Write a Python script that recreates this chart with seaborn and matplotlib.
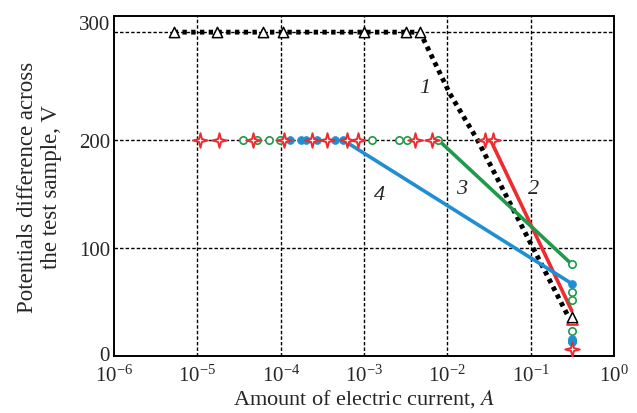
import numpy as np
import pandas as pd
import matplotlib
matplotlib.use("Agg")
import matplotlib.pyplot as plt
import matplotlib.transforms as mtransforms
from matplotlib.path import Path
import seaborn as sns

# curve 1 (black dotted, open triangles)
c1_x = [5.2e-6, 1.7e-5, 6.2e-5, 1.07e-4, 1.0e-3, 3.2e-3, 4.7e-3, 0.0107, 0.023, 0.105, 0.28]
c1_y = [300, 300, 300, 300, 300, 300, 300, 243, 200, 101, 37]
c1_mark_x = [5.2e-6, 1.7e-5, 6.2e-5, 1.07e-4, 1.0e-3, 3.2e-3, 4.7e-3, 0.31]
c1_mark_y = [300, 300, 300, 300, 300, 300, 300, 36]

# curve 2 (red, stars)
c2_mark_x = [1.07e-5, 1.8e-5, 4.6e-5, 1.1e-4, 2.4e-4, 3.6e-4, 6.3e-4, 8.5e-4,
             4.1e-3, 6.6e-3, 0.028, 0.035, 0.31]
c2_mark_y = [200] * 12 + [6]
c2_line_x = [0.033, 0.31]
c2_line_y = [200, 42]
c2_tri_x = [0.31]
c2_tri_y = [34]

# curve 3 (green, open circles)
c3_mark_x = [3.5e-5, 5.2e-5, 7.3e-5, 9.8e-5, 1.23e-3, 2.6e-3, 3.3e-3, 7.8e-3,
             0.31, 0.31, 0.31, 0.31, 0.31]
c3_mark_y = [200] * 8 + [85, 59, 52, 23, 14]
c3_line_x = [7.8e-3, 0.31]
c3_line_y = [200, 85]

# curve 4 (blue, filled circles)
c4_mark_x = [1.28e-4, 1.75e-4, 2.0e-4, 2.7e-4, 4.5e-4, 5.6e-4, 0.31, 0.31, 0.31]
c4_mark_y = [200] * 6 + [67, 16, 13]
c4_line_x = [5.6e-4, 0.31]
c4_line_y = [200, 67]

curve_labels = ["1", "2", "3", "4"]
label_x = [5.4e-3, 0.107, 0.015, 1.55e-3]
label_y = [249, 155, 155, 150]

RED = "#ee2b2f"
GREEN = "#1f9a4a"
BLUE = "#1e8fd3"

# thin four-pointed star used for curve 2
r = 0.2
star4 = Path([(0, 1), (r, r), (1, 0), (r, -r), (0, -1), (-r, -r), (-1, 0), (-r, r), (0, 1)],
             [Path.MOVETO] + [Path.LINETO] * 7 + [Path.CLOSEPOLY])

sns.set_style("ticks")
plt.rcParams["font.family"] = ["Liberation Serif", "DejaVu Serif"]
plt.rcParams["mathtext.fontset"] = "stix"

fig = plt.figure(figsize=(6.37, 4.14), dpi=100)
ax = fig.add_axes([0.179, 0.138, 0.785, 0.821])
ax.set_xscale("log")

# grid
for yv in [100, 200, 300]:
    ax.axhline(yv, color="black", lw=1.0, ls=(0, (2.5, 1.5)), zorder=1)
for xv in [1e-5, 1e-4, 1e-3, 1e-2, 1e-1]:
    ax.axvline(xv, color="black", lw=1.0, ls=(0, (2.5, 1.5)), zorder=1)

# lines
sns.lineplot(x=c1_x, y=c1_y, ax=ax, color="black", lw=3.5, ls=(0, (0.9, 0.9)),
             zorder=3, estimator=None, sort=False)
sns.lineplot(x=c2_line_x, y=c2_line_y, ax=ax, color=RED, lw=2.6, zorder=4,
             estimator=None, sort=False)
sns.lineplot(x=c3_line_x, y=c3_line_y, ax=ax, color=GREEN, lw=2.6, zorder=4,
             estimator=None, sort=False)
sns.lineplot(x=c4_line_x, y=c4_line_y, ax=ax, color=BLUE, lw=2.6, zorder=4,
             estimator=None, sort=False)

# markers
sns.scatterplot(x=c3_mark_x, y=c3_mark_y, ax=ax, marker="o", s=28,
                facecolor="white", edgecolor=GREEN, linewidth=1.2, zorder=5)
sns.scatterplot(x=c4_mark_x, y=c4_mark_y, ax=ax, marker="o", s=32,
                color=BLUE, edgecolor=BLUE, linewidth=0.5, zorder=6)
sns.scatterplot(x=c2_mark_x, y=c2_mark_y, ax=ax, marker=star4, s=110,
                facecolor="white", edgecolor=RED, linewidth=1.4, zorder=7)
sns.scatterplot(x=c2_tri_x, y=c2_tri_y, ax=ax, marker="^", s=60,
                facecolor="white", edgecolor=RED, linewidth=1.4, zorder=7)
sns.scatterplot(x=c1_mark_x, y=c1_mark_y, ax=ax, marker="^", s=55,
                facecolor="white", edgecolor="black", linewidth=1.1, zorder=8)

for t, lx, ly in zip(curve_labels, label_x, label_y):
    ax.text(lx, ly, t, fontsize=16, style="italic", ha="center", va="center",
            zorder=9, bbox=dict(facecolor="white", edgecolor="none", pad=0.5))

ax.set_xlim(1e-6, 1)
ax.set_ylim(0, 315)
ax.set_xticks([1e-6, 1e-5, 1e-4, 1e-3, 1e-2, 1e-1, 1])
ax.minorticks_off()
ax.set_yticks([0, 100, 200, 300])
ax.tick_params(axis="both", labelsize=15, length=0)
ax.tick_params(axis="x", pad=6)
ax.tick_params(axis="y", pad=3)
for lab in ax.get_yticklabels():
    shift = {"300": 0.1, "0": 0.03}.get(lab.get_text(), 0)
    if shift:
        lab.set_transform(lab.get_transform() +
                          mtransforms.ScaledTranslation(0, shift, fig.dpi_scale_trans))

for sp in ax.spines.values():
    sp.set_linewidth(1.4)
    sp.set_color("black")

ax.set_xlabel("Amount of electric current, $\\mathit{A}$", fontsize=16, labelpad=1)
ax.set_ylabel("Potentials difference across\nthe test sample, V", fontsize=16.5,
              labelpad=12)

fig.savefig("out.png", dpi=100)
